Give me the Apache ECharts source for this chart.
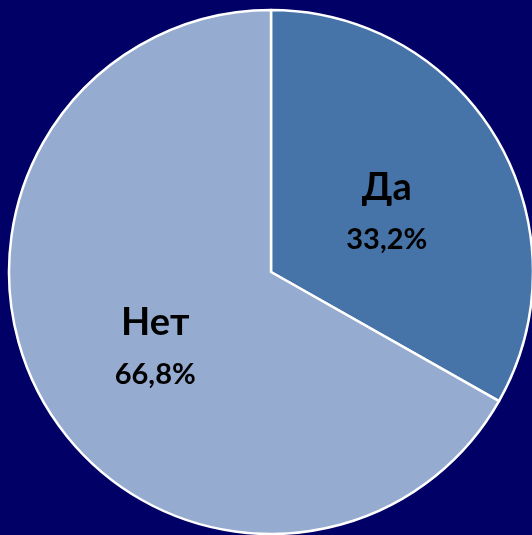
<!DOCTYPE html>
<html><head><meta charset="utf-8">
<script src="https://cdn.jsdelivr.net/npm/echarts@6/dist/echarts.min.js"></script>
<style>html,body{margin:0;padding:0;background:#000066}#c{width:532px;height:535px}</style>
</head><body><div id="c"></div>
<script>
const categories = ['Да', 'Нет'];
const values = [33.2, 66.8];
const colors = ['#4774A8', '#95ABD0'];
const chart = echarts.init(document.getElementById('c'));
chart.setOption({
  backgroundColor: '#000066',
  animation: false,
  series: [{
    type: 'pie',
    center: [271, 272],
    radius: 262,
    startAngle: 90,
    clockwise: true,
    data: categories.map((n, i) => ({name: n, value: values[i], itemStyle: {color: colors[i]}})),
    itemStyle: {borderColor: '#ffffff', borderWidth: 2.5},
    label: {
      position: 'inner',
      offset: [0, 5],
      formatter: p => '{n|' + p.name + '}\n{v|' + p.value.toFixed(1).replace('.', ',') + '%}',
      rich: {
        n: {fontFamily: 'Lato', fontWeight: 'bold', fontSize: 38, color: '#000', lineHeight: 60},
        v: {fontFamily: 'Lato', fontWeight: 'bold', fontSize: 29, color: '#000', lineHeight: 44}
      }
    },
    labelLine: {show: false}
  }]
});
</script></body></html>
